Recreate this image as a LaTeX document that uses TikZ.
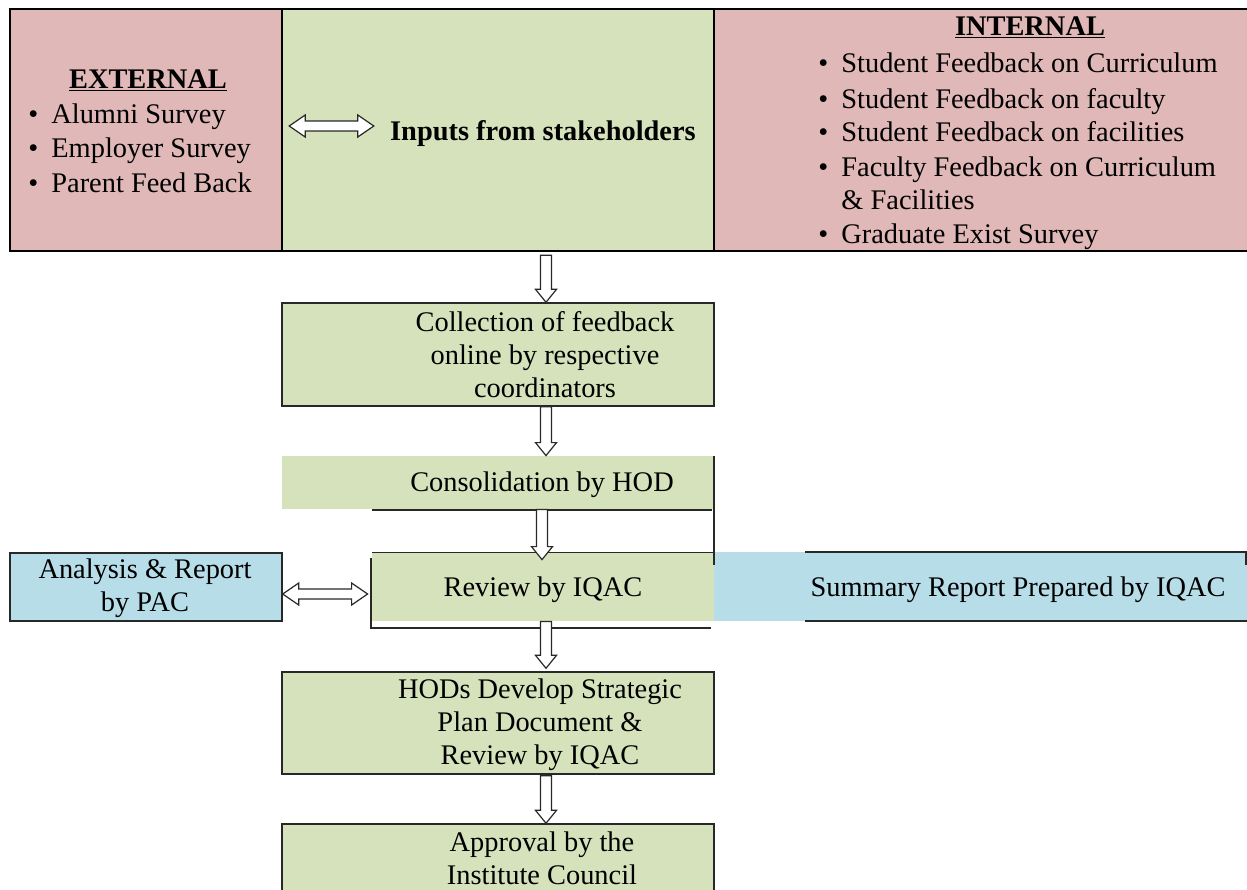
\documentclass[tikz,border=0pt]{standalone}
\usepackage{fontspec}
\setmainfont{Liberation Serif}
\usetikzlibrary{calc,fit}
\definecolor{cellpink}{RGB}{224,184,183}
\definecolor{boxgreen}{RGB}{214,226,188}
\definecolor{boxblue}{RGB}{183,221,232}
\definecolor{rim}{RGB}{40,40,40}
\newcommand{\bul}{\makebox[11.5pt][l]{\textbullet}}
\tikzset{
  cell/.style={inner sep=0pt, draw=black, line width=1.2pt},
  flowbox/.style={inner sep=0pt, draw=rim, line width=0.7pt, fill=boxgreen},
  plainbox/.style={inner sep=0pt, fill=boxgreen},
  txt/.style={inner sep=0pt, anchor=base, align=center,
    font=\fontsize{14.2}{16.5}\selectfont},
  item/.style={txt, anchor=base west},
  rimline/.style={draw=rim, line width=0.7pt},
  downarrow/.style={draw=rim, fill=white, line width=0.6pt,
    to path={let \p1=(\tikztostart), \p2=(\tikztotarget) in
      (\x1-2.75pt,\y1) -- (\x1+2.75pt,\y1) -- (\x1+2.75pt,\y2+6.5pt)
      -- (\x1+5.25pt,\y2+6.5pt) -- (\x1,\y2) -- (\x1-5.25pt,\y2+6.5pt)
      -- (\x1-2.75pt,\y2+6.5pt) -- cycle}},
  twoway/.style={draw=rim, fill=white, line width=0.6pt,
    to path={let \p1=(\tikztostart), \p2=(\tikztotarget) in
      (\x1,\y1) -- (\x1+8pt,\y1+5.5pt) -- (\x1+8pt,\y1+2.5pt)
      -- (\x2-8pt,\y1+2.5pt) -- (\x2-8pt,\y1+5.5pt) -- (\x2,\y1)
      -- (\x2-8pt,\y1-5.5pt) -- (\x2-8pt,\y1-2.5pt) -- (\x1+8pt,\y1-2.5pt)
      -- (\x1+8pt,\y1-5.5pt) -- cycle}}
}
\begin{document}
\begin{tikzpicture}[x=0.5pt,y=-0.5pt]
  \useasboundingbox (0,0) rectangle (1247,889);
  \clip (0,0) rectangle (1247,889);
  % stakeholder table
  \node[cell, fill=cellpink, fit={(10,9) (282,251)}] (ext) {};
  \node[cell, fill=boxgreen, fit={(282,9) (714,251)}] (inp) {};
  \node[cell, fill=cellpink, fit={(714,9) (1252,251)}] (int) {};
  \node[txt] (exthead) at (148,88) {\underline{\textbf{EXTERNAL}}};
  \foreach \y/\t [count=\i] in {123/Alumni Survey, 157/Employer Survey, 192/Parent Feed Back}
    \node[item] (ext\i) at (28,\y) {\bul\t};
  \node[txt] (inphead) at (543,140) {\textbf{Inputs from stakeholders}};
  \node[txt] (inthead) at (1030,35) {\underline{\textbf{INTERNAL}}};
  \foreach \y/\t [count=\i] in {72/Student Feedback on Curriculum, 108/Student Feedback on faculty,
      141/Student Feedback on facilities, 176/Faculty Feedback on Curriculum, 243/Graduate Exist Survey}
    \node[item] (int\i) at (818,\y) {\bul\t};
  \node[item] (int6) at (818,209) {\makebox[11.5pt]{}\& Facilities};
  % flow boxes (text nodes sit on the baseline of their last line)
  \node[flowbox, fit={(282,303) (714,406)}] (col) {};
  \node[txt] (coltext) at (545,397) {Collection of feedback\\online by respective\\coordinators};
  \node[plainbox, fit={(282,456) (714,509)}] (con) {};
  \node[txt] (context) at (542,491) {Consolidation by HOD};
  \node[plainbox, fit={(372,552) (714,621)}] (rev) {};
  \node[txt] (revtext) at (543,596) {Review by IQAC};
  \node[plainbox, fill=boxblue, fit={(714,552) (1252,621)}] (sum) {};
  \node[txt] (sumtext) at (1018,596) {Summary Report Prepared by IQAC};
  \node[flowbox, fill=boxblue, fit={(10,553) (282,621)}] (pac) {};
  \node[txt] (pactext) at (145,611) {Analysis \& Report\\by PAC};
  \node[flowbox, fit={(282,672) (714,774)}] (hod) {};
  \node[txt] (hodtext) at (540,764) {HODs Develop Strategic\\Plan Document \&\\Review by IQAC};
  \node[flowbox, fit={(282,824) (714,900)}] (app) {};
  \node[txt] (apptext) at (542,884) {Approval by the\\Institute Council};
  % stray frame lines
  \draw[rimline] (714,456) -- (714,565);
  \draw[rimline] (372,510) -- (712,510);
  \draw[rimline] (372,552.5) -- (713,552.5);
  \draw[rimline] (371,558) -- (371,628) -- (711,628);
  \draw[rimline] (805,552) -- (1247,552);
  \draw[rimline] (805,621) -- (1247,621);
  \draw[rimline] (1246,552) -- (1246,565);
  % block arrows
  \coordinate (axis) at (546,0);
  \draw[twoway] ([shift={(3pt,7pt)}]ext.east |- inphead.base) to ([shift={(-8pt,7pt)}]inphead.base west);
  \draw[downarrow] ([yshift=-1.5pt]inp.south -| axis) to (col.north -| axis);
  \draw[downarrow] (col.south -| axis) to (con.north -| axis);
  \draw[downarrow] ([xshift=-2pt]con.south -| axis) to ([shift={(-2pt,-4pt)}]rev.north -| axis);
  \draw[twoway] ([yshift=-3.5pt]pac.east) to ([shift={(-2pt,-3.5pt)}]rev.west);
  \draw[downarrow] (rev.south -| axis) to ([yshift=1.5pt]hod.north -| axis);
  \draw[downarrow] ([yshift=-0.5pt]hod.south -| axis) to (app.north -| axis);
\end{tikzpicture}
\end{document}
